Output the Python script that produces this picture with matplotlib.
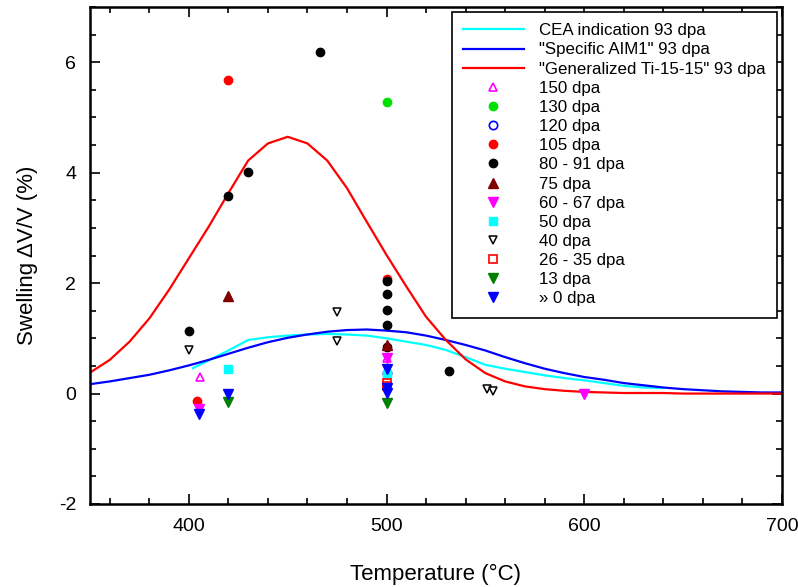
import matplotlib
matplotlib.use("Agg")
import matplotlib.pyplot as plt
from matplotlib.ticker import MultipleLocator

plt.rcParams['font.family'] = ['Liberation Sans', 'DejaVu Sans']
plt.rcParams['axes.unicode_minus'] = False

# ---- model curves ----
temp_red = [350, 360, 370, 380, 390, 400, 410, 420, 430, 440, 450, 460, 470, 480,
            490, 500, 510, 520, 530, 540, 550, 560, 570, 580, 590, 600, 610, 620,
            630, 640, 650, 660, 670, 680, 690, 700]
swell_red = [0.38, 0.61, 0.94, 1.36, 1.88, 2.45, 3.02, 3.63, 4.22, 4.53, 4.65, 4.53,
             4.22, 3.72, 3.11, 2.51, 1.94, 1.39, 0.97, 0.62, 0.37, 0.22, 0.13, 0.08,
             0.05, 0.03, 0.02, 0.01, 0.01, 0.01, 0.0, 0.0, 0.0, 0.0, 0.0, 0.0]

temp_blue = temp_red
swell_blue = [0.17, 0.22, 0.28, 0.34, 0.42, 0.51, 0.61, 0.72, 0.83, 0.93, 1.01, 1.07,
              1.12, 1.15, 1.16, 1.14, 1.11, 1.05, 0.97, 0.88, 0.78, 0.66, 0.55, 0.45,
              0.37, 0.30, 0.25, 0.19, 0.15, 0.11, 0.08, 0.06, 0.04, 0.03, 0.02, 0.02]

temp_cyan = [402, 410, 420, 430, 440, 450, 460, 470, 480, 490, 500, 510, 520, 530,
             540, 550, 560, 570, 580, 590, 600, 610, 620, 630, 640]
swell_cyan = [0.46, 0.60, 0.78, 0.97, 1.02, 1.05, 1.07, 1.08, 1.07, 1.05, 1.00, 0.94,
              0.88, 0.79, 0.66, 0.52, 0.45, 0.39, 0.33, 0.28, 0.24, 0.19, 0.14, 0.11, 0.10]

# ---- experimental points ----
t150 = [405.5, 500];            s150 = [0.30, 0.64]
t130 = [500];                   s130 = [5.28]
t120 = [500];                   s120 = [0.38]
t105 = [420, 500, 404];         s105 = [5.68, 2.08, -0.13]
t80 = [466.5, 430, 420, 400, 531.5, 500, 500, 500, 500, 500]
s80 = [6.19, 4.01, 3.58, 1.13, 0.41, 2.03, 1.80, 1.51, 1.25, 0.84]
t75 = [420, 500];               s75 = [1.77, 0.88]
t60 = [600, 500, 405];          s60 = [-0.01, 0.64, -0.28]
t50 = [420, 500];               s50 = [0.44, 0.36]
t40 = [400, 475, 475, 551, 553.7]
s40 = [0.79, 1.47, 0.95, 0.08, 0.04]
t26 = [500, 500];               s26 = [0.20, 0.13]
t13 = [420, 500];               s13 = [-0.15, -0.17]
t0 = [405, 420, 500, 500, 500]; s0 = [-0.37, -0.01, 0.44, 0.10, 0.01]

fig = plt.figure(figsize=(7.98, 5.87), dpi=100)
ax = fig.add_axes([0.1128, 0.1414, 0.867, 0.8466])

lw = 1.6
ax.plot(temp_cyan, swell_cyan, color='#00FFFF', lw=lw, label='CEA indication 93 dpa')
ax.plot(temp_blue, swell_blue, color='#0000FF', lw=lw, label='"Specific AIM1" 93 dpa')
ax.plot(temp_red, swell_red, color='#FF0000', lw=lw, label='"Generalized Ti-15-15" 93 dpa')

ms = 6
ax.plot(t150, s150, ls='none', marker='^', ms=ms, mfc='none', mec='#FF00FF', mew=1.2, label='150 dpa')
ax.plot(t130, s130, ls='none', marker='o', ms=ms, color='#00E000', label='130 dpa')
ax.plot(t120, s120, ls='none', marker='o', ms=ms, mfc='none', mec='#0000FF', mew=1.2, label='120 dpa')
ax.plot(t105, s105, ls='none', marker='o', ms=ms, color='#FF0000', label='105 dpa')
ax.plot(t80, s80, ls='none', marker='o', ms=ms, color='black', label='80 - 91 dpa')
ax.plot(t75, s75, ls='none', marker='^', ms=ms + 1, color='#800000', label='75 dpa')
ax.plot(t60, s60, ls='none', marker='v', ms=ms + 1, color='#FF00FF', label='60 - 67 dpa')
ax.plot(t50, s50, ls='none', marker='s', ms=ms - 0.5, color='#00FFFF', label='50 dpa')
ax.plot(t40, s40, ls='none', marker='v', ms=ms, mfc='white', mec='black', mew=1.1, label='40 dpa')
ax.plot(t26, s26, ls='none', marker='s', ms=ms - 0.5, mfc='none', mec='#FF0000', mew=1.2, label='26 - 35 dpa')
ax.plot(t13, s13, ls='none', marker='v', ms=ms + 1, color='#008000', label='13 dpa')
ax.plot(t0, s0, ls='none', marker='v', ms=ms + 1, color='#0000FF', label='» 0 dpa')

ax.set_xlim(350, 700)
ax.set_ylim(-2, 7)
ax.xaxis.set_major_locator(MultipleLocator(100))
ax.xaxis.set_minor_locator(MultipleLocator(20))
ax.yaxis.set_major_locator(MultipleLocator(2))
ax.yaxis.set_minor_locator(MultipleLocator(0.5))
ax.tick_params(which='both', direction='in', top=True, right=True, labelsize=14, width=1.2)
ax.tick_params(which='major', length=7, pad=10)
ax.tick_params(which='minor', length=4)
for sp in ax.spines.values():
    sp.set_linewidth(1.8)

ax.set_xlabel('Temperature (°C)', fontsize=16, labelpad=21)
ax.set_ylabel('Swelling ΔV/V (%)', fontsize=16, labelpad=15)

leg = ax.legend(loc='upper right', fontsize=12.2, frameon=True, fancybox=False,
                edgecolor='black', framealpha=1, handlelength=3.6, handletextpad=0.9,
                labelspacing=0.245, borderaxespad=0.3, borderpad=0.66)
leg.get_frame().set_linewidth(1.2)

fig.savefig('out.png', dpi=100)
